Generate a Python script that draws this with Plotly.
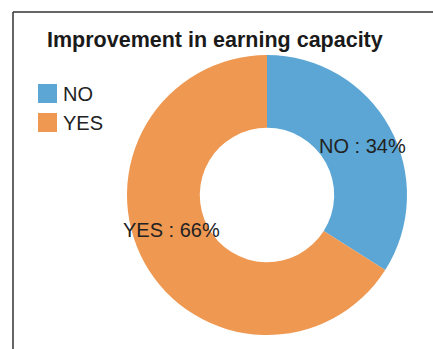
import plotly.graph_objects as go

# Survey answers and their shares (percent)
labels = ["NO", "YES"]
shares = [34, 66]
colors = ["#5BA6D5", "#EE9852"]
title_text = "Improvement in earning capacity"

W, H = 433, 349
FONT = "Liberation Sans, Arial, sans-serif"

def px(x):
    return x / W

def py(y):
    return 1 - y / H

fig = go.Figure(
    go.Pie(
        labels=labels,
        values=shares,
        hole=0.48,
        sort=False,
        direction="clockwise",
        rotation=0,
        marker=dict(colors=colors, line=dict(width=0)),
        textinfo="none",
        hoverinfo="label+percent",
        domain=dict(x=[px(127), px(407)], y=[py(335), py(55)]),
        showlegend=False,
    )
)

# Slice labels "NAME : value%"
label_pos = {"NO": (362, 146), "YES": (171, 230)}
for name, val in zip(labels, shares):
    x, y = label_pos[name]
    fig.add_annotation(
        x=px(x), y=py(y), xref="paper", yref="paper",
        text=f"{name} : {val}%", showarrow=False,
        font=dict(family=FONT, size=20, color="#222222"),
        xanchor="center", yanchor="middle",
    )

# Title
fig.add_annotation(
    x=px(45), y=py(40), xref="paper", yref="paper",
    text=f"<b>{title_text}</b>", showarrow=False,
    font=dict(family=FONT, size=21.5, color="#1a1a1a"),
    xanchor="left", yanchor="middle",
)

# Legend: square swatches with category names
for i, (name, col) in enumerate(zip(labels, colors)):
    top = 84 + i * 29
    fig.add_shape(type="rect", xref="paper", yref="paper",
                  x0=px(38), x1=px(57), y0=py(top + 19), y1=py(top),
                  fillcolor=col, line=dict(width=0))
    fig.add_annotation(
        x=px(61), y=py(top + 10), xref="paper", yref="paper",
        text=name, showarrow=False,
        font=dict(family=FONT, size=20, color="#222222"),
        xanchor="left", yanchor="middle",
    )

# Frame around the chart (open on the right and bottom edges of the page)
fig.add_shape(type="line", xref="paper", yref="paper",
              x0=px(13), y0=py(12), x1=px(13), y1=py(360),
              line=dict(color="#333333", width=1.5))
fig.add_shape(type="line", xref="paper", yref="paper",
              x0=px(13), y0=py(12), x1=px(440), y1=py(12),
              line=dict(color="#333333", width=1.5))

fig.update_layout(
    width=W, height=H,
    margin=dict(l=0, r=0, t=0, b=0),
    paper_bgcolor="white",
    plot_bgcolor="white",
)

fig.write_html("out.html")
